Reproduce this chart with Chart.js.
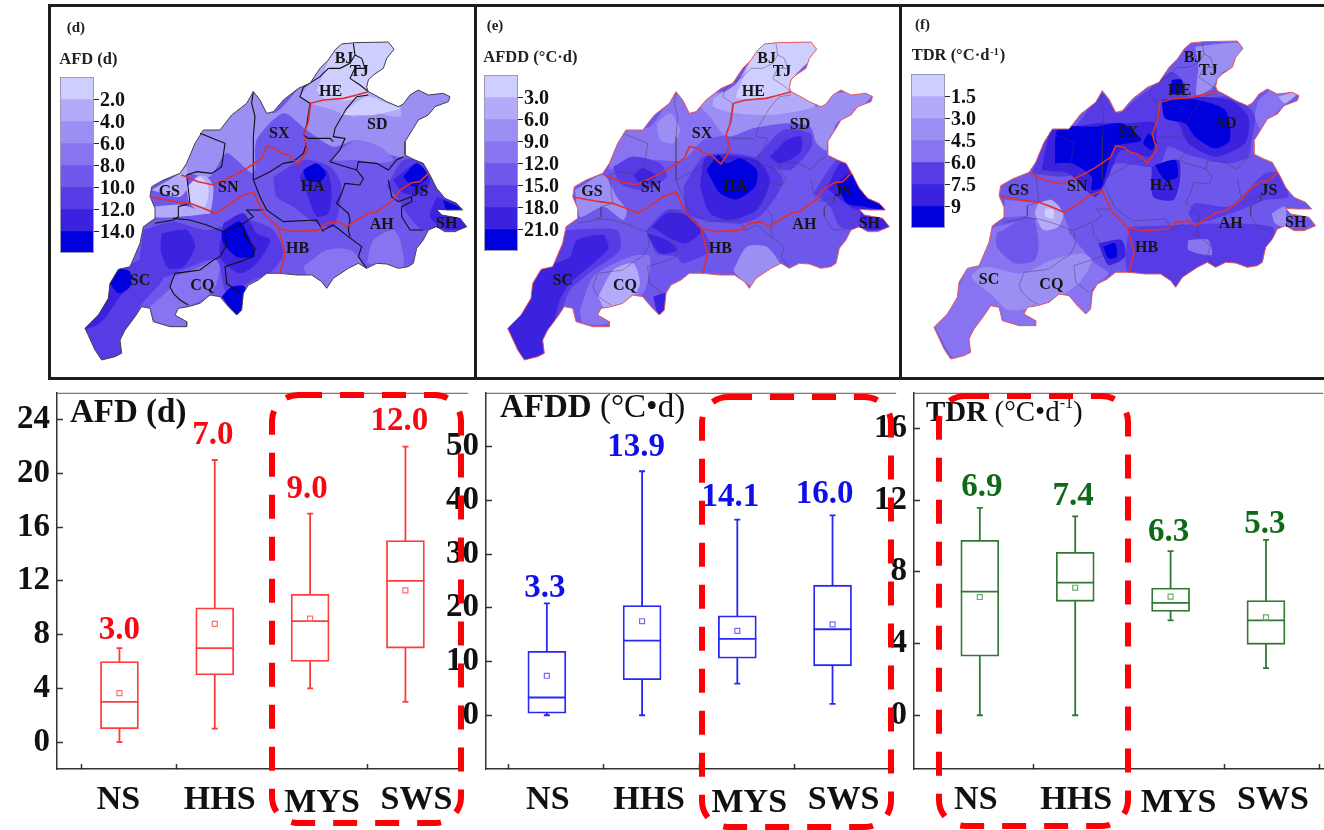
<!DOCTYPE html>
<html>
<head>
<meta charset="utf-8">
<title>Frost maps and box plots</title>
<script src="https://cdn.jsdelivr.net/npm/chart.js@4"></script>
<style>
  html, body { margin: 0; background: #fff; overflow: hidden; }
  #page { position: relative; width: 1324px; height: 830px; }
  canvas { position: absolute; filter: blur(0.45px); }
  .rule { position: absolute; background: #1c1c1c; }
  svg { position: absolute; left: 0; top: 0; }
</style>
</head>
<body>
<div id="page">
  <div class="rule" style="left:49px;top:4px;width:1275px;height:3px"></div>
  <div class="rule" style="left:49px;top:377px;width:1275px;height:3px"></div>
  <div class="rule" style="left:48px;top:4px;width:3px;height:376px"></div>
  <div class="rule" style="left:474px;top:4px;width:3px;height:376px"></div>
  <div class="rule" style="left:899px;top:4px;width:3px;height:376px"></div>
</div>
<script>
// box plot values
const regions = ['NS', 'HHS', 'MYS', 'SWS'];

const afdLow = [0, 1, 4, 3];
const afdQ1 = [1, 5, 6, 7];
const afdMedian = [3, 7, 9, 12];
const afdQ3 = [6, 10, 11, 15];
const afdHigh = [7, 21, 17, 22];
const afdMean = [3.65, 8.8, 9.2, 11.3];
const afdLabels = ['3.0', '7.0', '9.0', '12.0'];
const afdTicks = [0, 4, 8, 12, 16, 20, 24];

const afddLow = [0, 0, 5.9, 2.1];
const afddQ1 = [0.4, 6.6, 10.6, 9.2];
const afddMedian = [3.3, 13.9, 14.2, 16];
const afddQ3 = [11.9, 20.4, 18.5, 24.2];
const afddHigh = [20.8, 45.4, 36.4, 37.2];
const afddMean = [7.35, 17.5, 15.7, 16.9];
const afddLabels = ['3.3', '13.9', '14.1', '16.0'];
const afddTicks = [0, 10, 20, 30, 40, 50];

const tdrLow = [0, 0, 5.3, 2.63];
const tdrQ1 = [3.3, 6.36, 5.8, 3.96];
const tdrMedian = [6.9, 7.4, 6.27, 5.3];
const tdrQ3 = [9.77, 9.1, 7.1, 6.4];
const tdrHigh = [11.58, 11.1, 9.16, 9.79];
const tdrMean = [6.6, 7.12, 6.62, 5.46];
const tdrLabels = ['6.9', '7.4', '6.3', '5.3'];
const tdrTicks = [0, 4, 8, 12, 16];

// colour bars
const afdBarLabels = ['2.0', '4.0', '6.0', '8.0', '10.0', '12.0', '14.0'];
const afddBarLabels = ['3.0', '6.0', '9.0', '12.0', '15.0', '18.0', '21.0'];
const tdrBarLabels = ['1.5', '3.0', '4.5', '6.0', '7.5', '9'];

const levels = ['#CFCFFF', '#B3ABFA', '#9B8FF4', '#8874F0', '#6E57EB', '#573CE6', '#3A22DE', '#0000DE'];

// map shapes in map units
const outline = [[905,132],[945,128],[1045,126],[1062,148],[1040,175],[1030,205],[1000,225],[985,240],[980,262],[985,275],[1005,285],[1040,305],[1075,320],[1090,312],[1110,285],[1135,270],[1165,285],[1210,280],[1230,290],[1225,305],[1185,320],[1165,345],[1135,360],[1120,385],[1095,425],[1095,465],[1125,480],[1150,490],[1170,525],[1190,565],[1215,595],[1250,610],[1268,630],[1225,630],[1190,628],[1205,645],[1260,655],[1280,680],[1245,695],[1215,695],[1190,680],[1165,690],[1150,720],[1130,745],[1120,790],[1105,800],[1075,805],[1040,792],[1010,790],[980,805],[955,790],[925,805],[880,835],[860,865],[845,845],[815,825],[770,825],[720,820],[680,820],[655,840],[625,855],[610,880],[605,930],[590,945],[565,920],[540,890],[510,885],[480,910],[445,920],[415,925],[405,945],[440,965],[440,980],[390,980],[340,965],[330,925],[305,920],[285,950],[255,990],[240,1020],[245,1060],[225,1070],[185,1080],[165,1050],[135,985],[175,945],[205,895],[210,850],[235,808],[270,800],[300,730],[310,680],[345,655],[345,625],[330,590],[335,560],[370,540],[420,520],[440,490],[465,430],[490,390],[540,390],[575,345],[620,310],[640,275],[660,300],[680,340],[700,335],[730,300],[775,265],[810,250],[840,205],[865,180],[885,150],[905,132]];

const provinceLines = [
  [[865,205],[900,205],[930,190],[945,165],[940,130]],
  [[945,165],[965,175],[975,205],[945,205],[930,235],[960,255],[985,275]],
  [[865,205],[840,230],[790,262],[780,290],[810,310],[800,375],[790,405],[805,415],[870,415],[880,425]],
  [[985,285],[950,290],[920,325],[905,350],[885,385],[880,410],[915,415],[900,450],[870,485],[900,495],[950,510]],
  [[950,510],[955,485],[1010,490],[1045,510],[1070,480],[1090,470]],
  [[950,510],[970,535],[960,555],[915,550],[905,580],[890,610],[925,640],[930,660],[925,690],[930,710]],
  [[1045,540],[1055,590],[1075,605],[1115,590],[1115,605],[1085,620],[1085,650],[1110,690],[1150,690]],
  [[850,690],[880,675],[925,710],[965,740],[955,770],[980,805]],
  [[640,275],[635,310],[645,350],[640,410],[640,540],[660,590],[680,630],[730,665],[830,660],[850,695]],
  [[640,540],[690,515],[730,490],[760,485],[790,460],[800,430]],
  [[480,400],[530,420],[555,430],[545,500],[515,520],[470,515],[440,525]],
  [[440,525],[450,610],[415,620],[415,650],[400,660],[345,670]],
  [[400,655],[450,660],[500,675],[550,695],[610,670],[640,650],[620,630],[670,630]],
  [[555,700],[560,735],[540,770],[520,780],[480,810],[445,815],[405,820],[390,860],[400,880],[420,900],[445,915]],
  [[610,675],[615,710],[645,745],[640,770],[600,785],[555,800],[560,850],[600,880]]
];

const zoneLines = [
  [[985,275],[950,285],[910,295],[850,300],[812,310],[805,365],[790,405],[803,450],[775,492],[745,465],[725,460],[705,445],[680,440],[665,475],[620,505],[585,525],[520,555],[475,545],[425,525]],
  [[1165,520],[1140,545],[1115,548],[1080,570],[1060,600],[1010,635],[985,640],[950,660],[920,680],[895,665],[860,670],[835,690],[760,695],[715,685],[670,640],[640,575],[600,590],[560,620],[525,640],[490,625],[450,610],[410,605],[335,592]],
  [[715,685],[735,760],[720,820]]
];

const provinceNames = ['BJ', 'TJ', 'HE', 'SD', 'SX', 'HA', 'GS', 'SN', 'JS', 'AH', 'SH', 'HB', 'SC', 'CQ'];
const provinceSpots = [[912,178],[958,215],[872,277],[1012,375],[718,403],[818,560],[388,575],[565,563],[1140,575],[1025,675],[1220,672],[773,748],[300,843],[487,858]];

// [colour level, contour polygon] painted in this order over the base level
const contoursD = [
  [2, [[420,530],[460,400],[640,270],[700,340],[780,260],[900,130],[1070,130],[1240,290],[1120,400],[1090,470],[1010,450],[950,420],[880,440],[800,390],[730,340],[650,420],[640,520],[560,460],[510,530],[440,520]]],
  [1, [[780,290],[900,130],[1060,130],[1030,210],[990,260],[1080,320],[1080,350],[1000,340],[940,350],[880,330],[810,310]]],
  [0, [[830,270],[900,130],[1060,130],[1040,190],[985,250],[990,275],[930,300],[850,295]]],
  [0, [[900,345],[980,290],[1040,310],[1080,325],[1000,345],[950,345]]],
  [1, [[335,570],[420,520],[440,500],[450,610],[490,640],[510,640],[520,560],[500,530],[470,530],[420,590]]],
  [1, [[340,620],[420,615],[500,640],[420,650],[345,650]]],
  [0, [[440,560],[480,530],[505,560],[495,620],[450,610]]],
  [3, [[900,450],[950,420],[1020,440],[1060,480],[1010,490],[950,480],[880,480]]],
  [3, [[790,800],[860,750],[930,750],[980,810],[860,870],[800,825]]],
  [3, [[400,830],[480,800],[540,770],[530,850],[500,890],[430,920],[390,880]]],
  [3, [[330,920],[420,850],[430,920],[440,980],[350,970]]],
  [3, [[980,790],[1000,720],[1060,690],[1080,720],[1090,800],[1030,800]]],
  [5, [[700,530],[790,480],[870,500],[905,560],[880,680],[820,665],[760,620],[710,590]]],
  [5, [[310,690],[400,665],[500,690],[620,660],[700,690],[730,760],[700,810],[640,840],[560,880],[530,780],[450,800],[380,830],[300,840]]],
  [5, [[1040,560],[1090,480],[1160,490],[1260,620],[1280,680],[1150,690],[1100,640],[1070,590]]],
  [5, [[135,985],[210,850],[300,780],[370,830],[300,920],[240,1060],[185,1080]]],
  [6, [[800,500],[860,510],[875,580],[865,640],[830,650],[800,580],[780,530]]],
  [6, [[365,700],[440,690],[465,740],[430,800],[385,805],[362,750]]],
  [6, [[550,670],[610,640],[650,700],[690,720],[650,790],[600,820],[540,770]]],
  [6, [[210,850],[240,805],[275,850],[240,890],[180,970],[135,985]]],
  [6, [[1060,540],[1130,490],[1170,540],[1150,580],[1090,580]]],
  [6, [[1190,590],[1260,620],[1280,680],[1220,690],[1170,650]]],
  [7, [[790,510],[830,490],[858,520],[840,545],[800,540]]],
  [7, [[545,695],[600,665],[640,745],[640,770],[590,770],[550,730]]],
  [7, [[545,890],[575,860],[615,860],[605,935],[590,945]]],
  [7, [[210,850],[240,808],[270,815],[270,860],[235,880]]],
  [7, [[1090,530],[1130,490],[1165,530],[1120,560]]],
  [7, [[1210,600],[1260,625],[1220,630]]]
];

const contoursE = [
  [3, [[420,480],[470,385],[540,380],[620,280],[670,340],[720,300],[770,400],[700,420],[640,480],[560,480],[480,470],[420,510]]],
  [2, [[560,370],[600,340],[630,390],[610,430],[570,420]]],
  [2, [[690,320],[730,280],[1020,270],[1040,320],[1090,280],[1205,285],[1150,340],[1100,370],[1070,450],[1040,430],[1020,380],[950,370],[850,385],[770,410],[720,350]]],
  [1, [[730,295],[800,250],[880,130],[1020,280],[1030,320],[900,345],[800,340],[730,320]]],
  [0, [[800,280],[880,130],[1040,130],[1030,170],[990,210],[960,245],[965,275],[900,295],[800,295]]],
  [2, [[315,570],[400,525],[440,590],[470,630],[460,660],[400,620],[330,650]]],
  [2, [[790,810],[830,740],[890,740],[930,790],[930,810],[850,860],[800,825]]],
  [3, [[330,930],[370,830],[480,770],[540,770],[520,880],[440,930],[420,970],[340,970]]],
  [1, [[385,890],[430,810],[490,790],[510,850],[490,890],[430,925],[400,920]]],
  [5, [[290,690],[440,690],[450,750],[370,810],[300,870],[280,920],[250,1000],[170,1082],[113,985],[190,850]]],
  [6, [[113,985],[190,850],[220,805],[300,770],[320,720],[400,705],[415,745],[370,790],[300,850],[270,900],[240,1020],[235,1060],[170,1082]]],
  [5, [[640,560],[700,470],[780,460],[880,480],[940,540],[880,640],[820,670],[700,660],[650,640]]],
  [6, [[690,560],[710,470],[860,480],[900,540],[860,630],[780,660],[720,640]]],
  [7, [[710,510],[745,465],[770,490],[810,475],[860,510],[855,560],[800,598],[750,580]]],
  [5, [[860,470],[940,390],[1020,400],[1025,440],[960,510],[880,490]]],
  [6, [[900,470],[950,420],[995,410],[990,460],[930,490]]],
  [5, [[430,500],[490,470],[570,490],[590,530],[520,570],[450,550]]],
  [6, [[490,525],[520,505],[560,530],[510,550]]],
  [5, [[1030,580],[1100,480],[1140,490],[1200,590],[1258,680],[1170,690],[1110,680],[1080,620]]],
  [6, [[1070,565],[1110,490],[1140,500],[1250,630],[1170,630],[1140,620]]],
  [7, [[1100,550],[1145,520],[1185,580],[1245,628],[1180,620],[1130,610]]],
  [6, [[1170,640],[1230,650],[1258,680],[1190,690]]],
  [5, [[530,690],[590,630],[650,640],[700,690],[720,750],[640,790],[620,770],[560,760]]],
  [6, [[545,680],[590,640],[650,645],[695,690],[650,730],[610,720]]],
  [6, [[530,700],[590,720],[620,750],[570,760]]],
  [6, [[550,890],[590,880],[585,940],[565,945]]]
];

const contoursF = [
  [5, [[700,680],[1130,680],[1120,800],[960,800],[850,860],[700,820]]],
  [3, [[880,720],[940,720],[950,765],[880,750]]],
  [3, [[117,975],[190,860],[210,820],[290,690],[300,680],[420,660],[500,680],[600,790],[640,820],[590,870],[580,940],[420,975],[330,965],[310,920],[250,1000],[230,1060],[180,1080]]],
  [2, [[290,885],[230,830],[270,800],[380,820],[470,780],[560,760],[590,780],[560,840],[510,880],[420,920],[340,930]]],
  [4, [[305,700],[410,650],[430,720],[420,780],[360,790],[305,740]]],
  [3, [[330,600],[430,610],[500,640],[520,700],[400,650],[330,650]]],
  [1, [[430,610],[470,600],[505,640],[490,680],[445,690],[420,640]]],
  [0, [[450,625],[475,630],[475,655],[452,650]]],
  [5, [[410,520],[450,420],[480,380],[540,380],[620,280],[670,340],[720,300],[780,255],[830,215],[870,250],[880,290],[1010,290],[1060,320],[1080,350],[1070,420],[1060,470],[1000,490],[900,470],[870,460],[820,440],[790,500],[670,490],[620,510],[500,530]]],
  [6, [[440,510],[470,390],[540,380],[610,370],[700,370],[780,370],[770,470],[680,450],[640,530],[600,590],[520,520]]],
  [6, [[800,300],[880,290],[1005,300],[1060,350],[1050,430],[960,470],[880,430],[850,370],[810,350]]],
  [7, [[480,490],[490,385],[600,380],[680,370],[740,420],[700,430],[660,440],[640,490],[620,560],[590,570],[590,530],[530,490]]],
  [7, [[760,400],[785,425],[770,450],[745,430]]],
  [7, [[800,300],[880,295],[990,330],[1005,420],[960,445],[900,410],[870,370],[810,355]]],
  [5, [[760,730],[820,730],[825,800],[770,800]]],
  [6, [[770,500],[850,480],[855,540],[835,600],[775,590]]],
  [7, [[780,495],[840,480],[848,530],[810,540]]],
  [6, [[610,730],[680,720],[690,770],[640,795]]],
  [7, [[625,740],[660,730],[665,770],[640,775]]],
  [7, [[830,240],[860,240],[860,280],[830,280]]],
  [5, [[880,640],[900,610],[1000,620],[1050,580],[1110,520],[1150,520],[1180,590],[1110,600],[1010,640],[900,670]]],
  [2, [[900,140],[1040,130],[1030,190],[980,220],[950,265],[905,285],[910,200]]],
  [3, [[1090,300],[1130,270],[1215,275],[1150,330],[1100,390],[1080,350]]],
  [1, [[1150,290],[1210,275],[1170,310]]],
  [2, [[1130,640],[1170,620],[1170,680],[1140,670]]]
];

const page = document.getElementById('page');
const serif = '"Liberation Serif", "Times New Roman", serif';

function addCanvas(left, top, width, height) {
    const canvas = document.createElement('canvas');
    canvas.width = width;
    canvas.height = height;
    canvas.style.left = left + 'px';
    canvas.style.top = top + 'px';
    page.appendChild(canvas);
    return canvas;
}

function toPoints(shape, dx, dy) {
    return shape.map(p => ({ x: p[0] + (dx || 0), y: p[1] + (dy || 0) }));
}

// Map panel
function drawMap(cfg) {
    const border = toPoints(outline, cfg.dx, cfg.dy);
    const datasets = [];
    datasets.push({ data: border, backgroundColor: levels[cfg.base], borderWidth: 0, fill: 'shape', tension: 0 });
    cfg.contours.forEach(c => {
        const pts = toPoints(c[1]);
        pts.push(pts[0]);
        datasets.push({ data: pts, backgroundColor: levels[c[0]], borderWidth: 0, fill: 'shape', tension: 0.25 });
    });
    datasets[datasets.length - 1].endClip = true;
    provinceLines.forEach(l => {
        datasets.push({ data: toPoints(l, cfg.dx, cfg.dy), borderColor: cfg.provinceColor, borderWidth: cfg.provinceWidth, fill: false, tension: 0 });
    });
    datasets.push({ data: border, borderColor: cfg.outlineColor, borderWidth: 1, fill: false, tension: 0 });
    zoneLines.forEach(l => {
        datasets.push({ data: toPoints(l, cfg.dx, cfg.dy), borderColor: 'rgb(222,48,48)', borderWidth: 1.6, fill: false, tension: 0 });
    });
    // the first dataset in the list has to be painted first
    datasets.forEach((d, i) => { d.order = datasets.length - i; d.pointRadius = 0; });

    new Chart(addCanvas(cfg.left, 0, cfg.width, 380), {
        type: 'line',
        data: { datasets: datasets },
        options: {
            responsive: false,
            animation: false,
            plugins: { legend: { display: false }, tooltip: { enabled: false } },
            scales: {
                x: { type: 'linear', display: false, min: 0, max: cfg.width * 3 },
                y: { type: 'linear', display: false, min: 0, max: 1140, reverse: true }
            }
        },
        plugins: [{
            id: 'mapClip',
            beforeDatasetsDraw(chart) {
                const ctx = chart.ctx;
                ctx.save();
                ctx.beginPath();
                border.forEach((p, i) => {
                    const px = chart.scales.x.getPixelForValue(p.x);
                    const py = chart.scales.y.getPixelForValue(p.y);
                    if (i === 0) ctx.moveTo(px, py); else ctx.lineTo(px, py);
                });
                ctx.closePath();
                ctx.clip();
            },
            afterDatasetDraw(chart, args) {
                if (chart.data.datasets[args.index].endClip) chart.ctx.restore();
            },
            afterDraw(chart) {
                const ctx = chart.ctx;
                const sx = chart.scales.x;
                const sy = chart.scales.y;
                ctx.save();
                ctx.fillStyle = '#151515';
                ctx.textAlign = 'center';
                ctx.textBaseline = 'middle';
                ctx.font = 'bold 16px ' + serif;
                provinceNames.forEach((name, i) => {
                    ctx.fillText(name, sx.getPixelForValue(provinceSpots[i][0] + cfg.dx), sy.getPixelForValue(provinceSpots[i][1] + cfg.dy));
                });
                ctx.textAlign = 'left';
                ctx.fillStyle = '#222';
                ctx.font = 'bold 15px ' + serif;
                ctx.fillText(cfg.letter, cfg.letterAt[0] / 3, cfg.letterAt[1] / 3);
                ctx.font = 'bold 16.5px ' + serif;
                ctx.fillText(cfg.title, cfg.titleAt[0] / 3, cfg.titleAt[1] / 3);
                if (cfg.superscript) {
                    const w = ctx.measureText(cfg.title).width;
                    ctx.font = 'bold 10px ' + serif;
                    ctx.fillText(cfg.superscript, cfg.titleAt[0] / 3 + w + 1, cfg.titleAt[1] / 3 - 4);
                    const w2 = ctx.measureText(cfg.superscript).width;
                    ctx.font = 'bold 16.5px ' + serif;
                    ctx.fillText(')', cfg.titleAt[0] / 3 + w + w2 + 2, cfg.titleAt[1] / 3);
                }
                ctx.restore();
            }
        }]
    });
}

// Colour bar next to a map
function drawColorBar(cfg) {
    const labels = cfg.labels;
    new Chart(addCanvas(cfg.left, cfg.top, 34 + 50, cfg.colors.length * 22), {
        type: 'bar',
        data: {
            labels: ['bar'],
            datasets: cfg.colors.map(c => ({ data: [cfg.step], backgroundColor: c, barPercentage: 1, categoryPercentage: 1 }))
        },
        options: {
            responsive: false,
            animation: false,
            plugins: { legend: { display: false }, tooltip: { enabled: false } },
            scales: {
                x: { stacked: true, display: false },
                y: {
                    stacked: true,
                    position: 'right',
                    reverse: true,
                    min: 0,
                    max: cfg.step * cfg.colors.length,
                    afterBuildTicks: axis => { axis.ticks = labels.map(l => ({ value: Number(l) })); },
                    afterFit: axis => { axis.width = 50; axis.paddingTop = 0; axis.paddingBottom = 0; },
                    border: { display: false },
                    grid: { drawOnChartArea: false, tickLength: 5, color: '#222', tickWidth: 1 },
                    ticks: {
                        autoSkip: false,
                        padding: 1,
                        labelOffset: 2,
                        color: '#111',
                        font: { family: serif, weight: 'bold', size: 20 },
                        callback: (v, i) => labels[i]
                    }
                }
            }
        },
        plugins: [{
            id: 'barEdge',
            afterDraw(chart) {
                const a = chart.chartArea;
                chart.ctx.save();
                chart.ctx.strokeStyle = '#9a9ab8';
                chart.ctx.strokeRect(a.left + 0.5, a.top + 0.5, a.width - 1, a.height - 1);
                chart.ctx.restore();
            }
        }]
    });
}

// Box plot panel. The wide median markers make Chart.js keep 20px free above and
// right of the plot area, so the canvas starts at y=372 and runs 20px past the plot.
function drawBoxes(cfg) {
    const x = regions.map((r, i) => i + 1);
    const whiskers = [];
    x.forEach((v, i) => {
        whiskers.push({ x: v, y: cfg.low[i] }, { x: v, y: cfg.high[i] }, { x: v, y: null });
    });
    new Chart(addCanvas(cfg.left, 372, cfg.width + 20, 458), {
        type: 'bar',
        data: {
            datasets: [
                { type: 'line', data: whiskers, order: 3, borderColor: cfg.color, borderWidth: 1.8, spanGaps: false, pointStyle: 'line', pointRadius: 3, pointBorderColor: cfg.color, pointBorderWidth: 1.8 },
                { type: 'bar', data: x.map((v, i) => ({ x: v, y: [cfg.q1[i], cfg.q3[i]] })), order: 2, backgroundColor: '#fff', borderColor: cfg.color, borderWidth: 1.8, borderSkipped: false, barThickness: 38 },
                { type: 'scatter', data: x.map((v, i) => ({ x: v, y: cfg.median[i] })), order: 1, pointStyle: 'line', pointRadius: 19, pointBorderColor: cfg.color, pointBorderWidth: 1.8 },
                { type: 'scatter', data: x.map((v, i) => ({ x: v, y: cfg.mean[i] })), order: 0, pointStyle: 'rect', pointRadius: 3.5, pointBackgroundColor: 'rgba(255,255,255,0)', pointBorderColor: cfg.meanColor, pointBorderWidth: 1.2 }
            ]
        },
        options: {
            responsive: false,
            animation: false,
            plugins: { legend: { display: false }, tooltip: { enabled: false } },
            scales: {
                x: {
                    type: 'linear',
                    offset: false,
                    min: cfg.xMin,
                    max: cfg.xMax,
                    afterBuildTicks: axis => { axis.ticks = cfg.xTicks.map(v => ({ value: v })); },
                    afterFit: axis => { axis.height = 61; axis.paddingLeft = 0; axis.paddingRight = 0; },
                    border: { color: '#333', width: 1.5 },
                    grid: { offset: false, drawOnChartArea: false, tickLength: -5, color: '#333', tickWidth: 1.5 },
                    ticks: { display: false, autoSkip: false }
                },
                y: {
                    min: cfg.yMin,
                    max: cfg.yMax,
                    afterBuildTicks: axis => { axis.ticks = cfg.yTicks.map(v => ({ value: v })); },
                    afterFit: axis => { axis.width = 50; axis.paddingTop = 0; axis.paddingBottom = 0; },
                    border: { color: '#333', width: 1.5 },
                    grid: { drawOnChartArea: false, tickLength: -6, color: '#333', tickWidth: 1.5 },
                    ticks: { autoSkip: false, padding: 13, color: '#111', font: { family: serif, weight: 'bold', size: 33 } }
                }
            }
        },
        plugins: [{
            id: 'boxText',
            afterDraw(chart) {
                const ctx = chart.ctx;
                const a = chart.chartArea;
                const sx = chart.scales.x;
                const sy = chart.scales.y;
                ctx.save();
                ctx.strokeStyle = '#555';
                ctx.beginPath();
                ctx.moveTo(a.left, a.top + 0.5);
                ctx.lineTo(a.right + cfg.topExtra, a.top + 0.5);
                ctx.stroke();

                ctx.textBaseline = 'middle';
                ctx.textAlign = 'center';
                ctx.font = 'bold 33px ' + serif;
                ctx.fillStyle = cfg.labelColor;
                cfg.labels.forEach((t, i) => {
                    ctx.fillText(t, sx.getPixelForValue(x[i]) + cfg.labelShift[i], sy.getPixelForValue(cfg.high[i]) - cfg.labelGap[i] + 2);
                });

                ctx.fillStyle = '#111';
                ctx.font = 'bold 34px ' + serif;
                regions.forEach((r, i) => {
                    ctx.fillText(r, sx.getPixelForValue(x[i]) + cfg.nameShift[i], a.bottom + (i === 2 ? 34 : 31));
                });

                // panel title: bold name then plain unit
                ctx.textAlign = 'left';
                let tx = a.left + cfg.titleLeft;
                const ty = a.top + 21 + cfg.titleDrop;
                cfg.title.forEach(part => {
                    ctx.font = (part.bold ? 'bold ' : '') + (part.sup ? 16 : cfg.titleSize) + 'px ' + serif;
                    ctx.fillText(part.text, tx, part.sup ? ty - 10 : ty);
                    tx += ctx.measureText(part.text).width;
                });
                ctx.restore();
            }
        }]
    });
}

drawMap({ left: 40, width: 440, dx: 0, dy: 0, base: 4, contours: contoursD, provinceColor: '#101010', provinceWidth: 1.1, outlineColor: '#444', letter: '(d)', letterAt: [80, 85], title: 'AFD (d)', titleAt: [58, 180] });
drawMap({ left: 470, width: 435, dx: -22, dy: 0, base: 4, contours: contoursE, provinceColor: 'rgba(60,60,80,0.55)', provinceWidth: 0.8, outlineColor: 'rgb(225,90,90)', letter: '(e)', letterAt: [50, 78], title: 'AFDD (°C·d)', titleAt: [40, 173] });
drawMap({ left: 895, width: 429, dx: -18, dy: -3, base: 4, contours: contoursF, provinceColor: 'rgba(60,60,80,0.55)', provinceWidth: 0.8, outlineColor: 'rgb(225,90,90)', letter: '(f)', letterAt: [60, 75], title: 'TDR (°C·d', superscript: '-1', titleAt: [50, 168] });

drawColorBar({ left: 60, top: 77, step: 2, labels: afdBarLabels, colors: levels });
drawColorBar({ left: 484, top: 75, step: 3, labels: afddBarLabels, colors: levels });
drawColorBar({ left: 911, top: 74, step: 1.5, labels: tdrBarLabels, colors: levels.filter((c, i) => i !== 4) });

drawBoxes({
    left: 7, width: 455, xMin: 0.345, xMax: 4.585, yMin: -2, yMax: 26, topExtra: 7,
    xTicks: [0.6, 1.6, 2.6, 3.6], yTicks: afdTicks,
    low: afdLow, q1: afdQ1, median: afdMedian, q3: afdQ3, high: afdHigh, mean: afdMean, labels: afdLabels,
    color: 'rgb(255,60,60)', meanColor: 'rgb(255,110,110)', labelColor: 'rgb(245,10,20)',
    labelShift: [0, -2, -3, -6], labelGap: [20, 27, 26, 27], nameShift: [-1, 5, 12, 11],
    titleLeft: 13, titleDrop: 0, titleSize: 33, title: [{ text: 'AFD (d)', bold: true }]
});
drawBoxes({
    left: 436, width: 454, xMin: 0.361, xMax: 4.595, yMin: -10, yMax: 60, topExtra: 7,
    xTicks: [0.6, 1.6, 2.6, 3.6], yTicks: afddTicks,
    low: afddLow, q1: afddQ1, median: afddMedian, q3: afddQ3, high: afddHigh, mean: afddMean, labels: afddLabels,
    color: 'rgb(40,40,245)', meanColor: 'rgb(110,110,250)', labelColor: 'rgb(15,15,235)',
    labelShift: [-2, -6, -7, -8], labelGap: [17, 26, 24, 23], nameShift: [1, 7, 12, 11],
    titleLeft: 14, titleDrop: -5, titleSize: 33, title: [{ text: 'AFDD', bold: true }, { text: ' (°C•d)' }]
});
drawBoxes({
    left: 864, width: 460, xMin: 0.31, xMax: 4.6, yMin: -3, yMax: 18, topExtra: 0,
    xTicks: [0.56, 1.56, 2.56, 3.56, 4.56], yTicks: tdrTicks,
    low: tdrLow, q1: tdrQ1, median: tdrMedian, q3: tdrQ3, high: tdrHigh, mean: tdrMean, labels: tdrLabels,
    color: 'rgb(50,120,50)', meanColor: 'rgb(110,170,110)', labelColor: 'rgb(15,105,25)',
    labelShift: [2, -2, -2, -1], labelGap: [22, 22, 21, 17], nameShift: [-4, 1, 8, 7],
    titleLeft: 12, titleDrop: 0, titleSize: 29, title: [{ text: 'TDR', bold: true }, { text: ' (°C•d' }, { text: '-1', sup: true }, { text: ')' }]
});

// dashed highlight boxes sit above all panels
const boxes = [[272, 395, 189, 428], [702, 397, 189, 430], [939, 396, 189, 430]];
const svgNS = 'http://www.w3.org/2000/svg';
const svg = document.createElementNS(svgNS, 'svg');
svg.setAttribute('width', 1324);
svg.setAttribute('height', 830);
boxes.forEach(b => {
    const r = document.createElementNS(svgNS, 'rect');
    r.setAttribute('x', b[0]);
    r.setAttribute('y', b[1]);
    r.setAttribute('width', b[2]);
    r.setAttribute('height', b[3]);
    r.setAttribute('rx', 26);
    r.setAttribute('fill', 'none');
    r.setAttribute('stroke', '#fb0007');
    r.setAttribute('stroke-width', 6);
    r.setAttribute('stroke-dasharray', '24 18');
    svg.appendChild(r);
});
page.appendChild(svg);
</script>
</body>
</html>
